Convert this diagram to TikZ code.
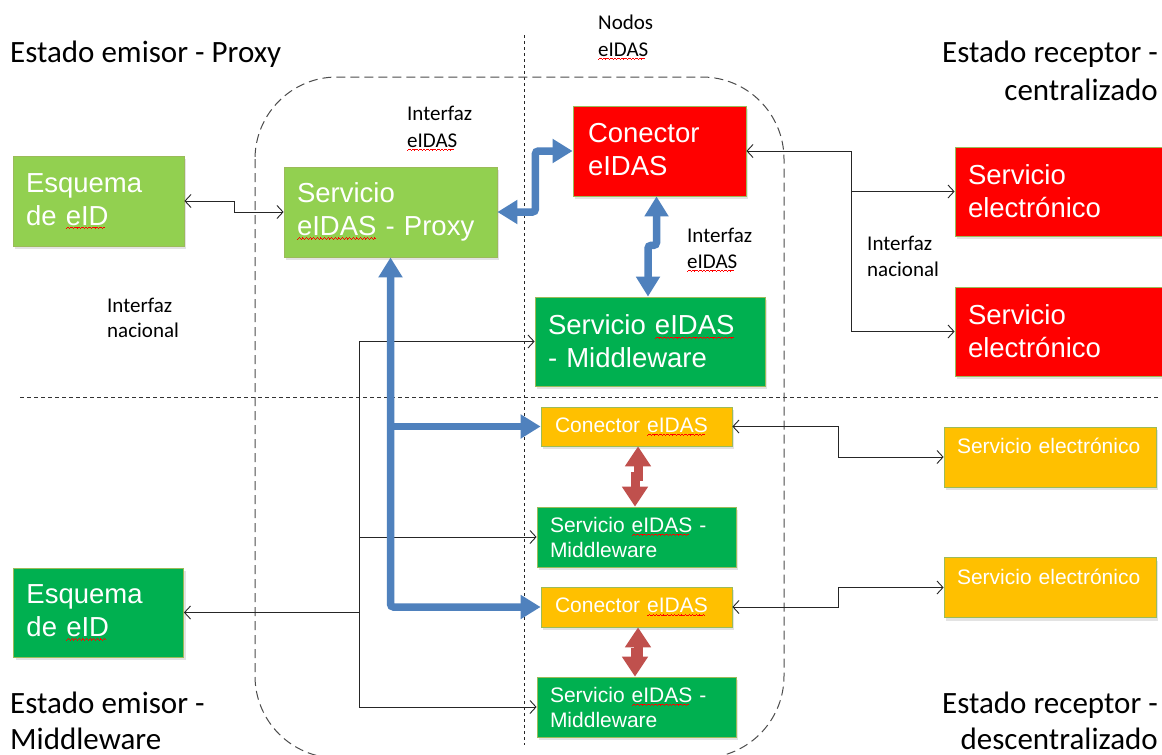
\documentclass[tikz,border=0pt]{standalone}
\usepackage{fontspec}
\setmainfont{Carlito}
\newfontfamily\boxfont{Liberation Sans}
\usetikzlibrary{arrows.meta,shadows,calc}
% red spell-check squiggle under a word, built from small rules
\newsavebox\splbox
\newcommand\wavebit{\rule[-3.6pt]{0.9pt}{0.7pt}\rule[-3.0pt]{0.9pt}{0.7pt}%
  \rule[-2.4pt]{0.9pt}{0.7pt}\rule[-3.0pt]{0.9pt}{0.7pt}}
\newcommand\spl[1]{\leavevmode\sbox\splbox{#1}%
  \rlap{\color{red}\leaders\hbox{\wavebit}\hskip\wd\splbox}%
  \usebox\splbox}

\definecolor{lgreen}{HTML}{92D050}
\definecolor{dgreen}{HTML}{00B050}
\definecolor{bred}{HTML}{FF0000}
\definecolor{amber}{HTML}{FFC000}
\definecolor{steel}{HTML}{4F81BD}
\definecolor{brick}{HTML}{C0504D}
\definecolor{edge}{HTML}{9BBB59}

\tikzset{
  BT/.tip={Triangle[length=20pt,width=23pt]},
  RT/.tip={Triangle[length=20pt,width=25pt]},
  VT/.tip={Straight Barb[length=6pt,width=13pt,line width=0.9pt]},
  box/.style={draw=edge, line width=0.8pt, inner xsep=13pt, inner ysep=0pt,
    text=white, align=left,
    drop shadow={opacity=0.22, shadow xshift=2pt, shadow yshift=-3pt}},
  bigtxt/.style={font=\boxfont\fontsize{27.5}{33}\selectfont},
  smalltxt/.style={font=\boxfont\fontsize{21}{25}\selectfont},
  lbl/.style={font=\fontsize{21}{26}\selectfont, inner sep=0pt, anchor=base west},
  ttl/.style={font=\fontsize{31}{38}\selectfont, inner sep=0pt},
  thinlink/.style={draw=black!85, line width=0.9pt, >=VT},
  bluelink/.style={draw=steel, line width=7.5pt, rounded corners=3pt},
  redlink/.style={draw=brick, line width=9pt},
}

\begin{document}
\begin{tikzpicture}[x=1pt,y=-1pt]
\fill[white] (0,0) rectangle (1162,755);
\useasboundingbox (0,0) rectangle (1162,755);

% region separators
\draw[black!80, line width=1pt, dash pattern=on 4pt off 3pt] (20,397) -- (1160,397);
\draw[black!85, line width=0.9pt, dash pattern=on 3pt off 3pt] (524,35) -- (524,745);
\draw[black!70, line width=1pt, dash pattern=on 9pt off 5pt, rounded corners=82pt]
  (255,77) rectangle (784,758);

% sending state - proxy
\node[box, bigtxt, fill=lgreen, minimum width=171pt, minimum height=90pt, text width=145pt]
  (esq1) at (98.5,201) {Esquema\\de \spl{eID}};
\node[box, bigtxt, fill=lgreen, minimum width=213pt, minimum height=90pt, text width=187pt]
  (prx) at (390.5,212) {Servicio\\\spl{eIDAS} - Proxy};

% eIDAS nodes
\node[box, bigtxt, fill=bred, inner xsep=15pt, minimum width=173pt, minimum height=90pt, text width=143pt]
  (con) at (659.5,151) {Conector\\\spl{eIDAS}};
\node[box, bigtxt, fill=dgreen, minimum width=230pt, minimum height=89pt, text width=204pt]
  (mw) at (650,341.5) {Servicio \spl{eIDAS}\\- Middleware};

\node[box, smalltxt, fill=amber, inner xsep=14pt, minimum width=191pt, minimum height=39pt, text width=163pt]
  (c1) at (636.5,426.5) {Conector \spl{eIDAS}};
\node[box, smalltxt, fill=dgreen, minimum width=199pt, minimum height=60pt, text width=173pt]
  (m1) at (636.5,537) {Servicio \spl{eIDAS} -\\Middleware};
\node[box, smalltxt, fill=amber, inner xsep=14pt, minimum width=191pt, minimum height=40pt, text width=163pt]
  (c2) at (636.5,607) {Conector \spl{eIDAS}};
\node[box, smalltxt, fill=dgreen, minimum width=199pt, minimum height=60pt, text width=173pt]
  (m2) at (636.5,707) {Servicio \spl{eIDAS} -\\Middleware};

% receiving state - centralised
\node[box, bigtxt, fill=bred, minimum width=212pt, minimum height=89pt, text width=186pt]
  (se1) at (1061,191.5) {Servicio\\electrónico};
\node[box, bigtxt, fill=bred, minimum width=212pt, minimum height=89pt, text width=186pt]
  (se2) at (1061,331.5) {Servicio\\electrónico};

% receiving state - decentralised
\node[box, smalltxt, fill=amber, minimum width=212pt, minimum height=60pt, text width=186pt,
  text height=15pt, text depth=22pt]
  (se3) at (1050,457) {Servicio electrónico};
\node[box, smalltxt, fill=amber, minimum width=212pt, minimum height=60pt, text width=186pt,
  text height=15pt, text depth=22pt]
  (se4) at (1050,587.5) {Servicio electrónico};

% sending state - middleware
\node[box, bigtxt, fill=dgreen, minimum width=170pt, minimum height=89pt, text width=144pt]
  (esq2) at (98.5,612.5) {Esquema\\de \spl{eID}};

% national interfaces
\draw[thinlink, <->] (esq1.east) -- ++(50,0) |- (prx.west);
\coordinate (j1) at ($(con.east)+(105,0)$);
\draw[thinlink, <-] (con.east) -- (j1);
\draw[thinlink, ->] (j1) |- (se1.west);
\draw[thinlink, ->] (j1) |- (se2.west);
\coordinate (j2) at ($(esq2.east)+(176,0)$);
\draw[thinlink, <-] (esq2.east) -- (j2);
\draw[thinlink, ->] (j2) |- (mw.west);
\draw[thinlink, ->] (j2) |- (m1.west);
\draw[thinlink, ->] (j2) |- (m2.west);
\draw[thinlink, <->] (c1.east) -- ++(106,0) |- (se3.west);
\draw[thinlink, <->] (c2.east) -- ++(106,0) |- (se4.west);

% eIDAS interfaces
\draw[bluelink, BT-BT] (prx.east) -- ++(38,0) |- (con.west);
\draw[bluelink, BT-BT] ([xshift=-3pt]con.south) -- ++(0,49) -| ([xshift=-2pt]mw.north);
\draw[bluelink, BT-BT] (c2.west) -| (prx.south);
\draw[bluelink, -BT] (prx.south |- c1.west) -- (c1.west);
\draw[redlink, RT-RT] ([xshift=1.5pt]c1.south) -- ++(0,30) -| ([xshift=-1.5pt]m1.north);
\draw[redlink, RT-RT] ([xshift=1.5pt]c2.south) -- ++(0,25) -| ([xshift=-1.5pt]m2.north);

% labels
\node[lbl] (n1) at (598,29) {Nodos};
\node[lbl] (n2) at (598,56) {\spl{eIDAS}};
\node[lbl] (i1) at (407,120) {Interfaz};
\node[lbl] (i2) at (407,147) {\spl{eIDAS}};
\node[lbl] (i3) at (687,242) {Interfaz};
\node[lbl] (i4) at (687,268) {\spl{eIDAS}};
\node[lbl] (i5) at (107,312) {Interfaz};
\node[lbl] (i6) at (107,337) {nacional};
\node[lbl] (i7) at (867,250) {Interfaz};
\node[lbl] (i8) at (867,276) {nacional};

% state titles
\node[ttl, anchor=base west] (t1) at (10,62) {Estado emisor - Proxy};
\node[ttl, anchor=base east] (t2) at (1158,62) {Estado receptor -};
\node[ttl, anchor=base east] (t3) at (1158,100) {centralizado};
\node[ttl, anchor=base west] (t4) at (10,713) {Estado emisor -};
\node[ttl, anchor=base west] (t5) at (10,749) {Middleware};
\node[ttl, anchor=base east] (t6) at (1158,713) {Estado receptor -};
\node[ttl, anchor=base east] (t7) at (1158,749) {descentralizado};
\end{tikzpicture}
\end{document}
